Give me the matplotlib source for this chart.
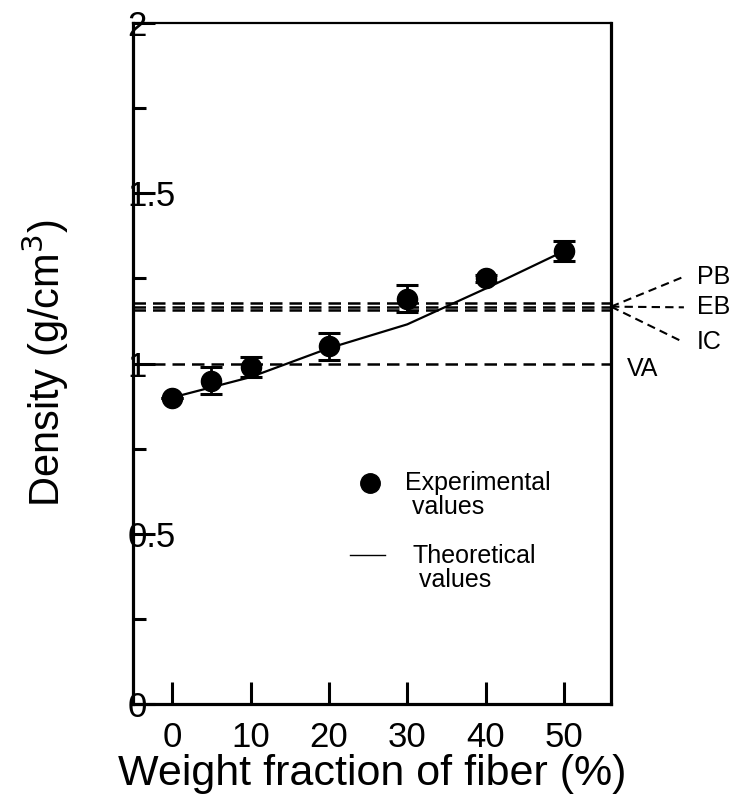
import matplotlib.pyplot as plt
from matplotlib.ticker import MultipleLocator

plt.rcParams['font.family'] = ['Liberation Sans', 'DejaVu Sans']

# Experimental data
fiber = [0, 5, 10, 20, 30, 40, 50]
density = [0.90, 0.95, 0.99, 1.05, 1.19, 1.25, 1.33]
density_err = [0.0, 0.04, 0.03, 0.04, 0.04, 0.01, 0.03]

# Theoretical curve
theory_x = [0, 5, 10, 20, 30, 40, 50]
theory_y = [0.90, 0.93, 0.96, 1.045, 1.115, 1.22, 1.33]

# Model predictions (horizontal lines)
model_names = ['PB', 'EB', 'IC', 'VA']
model_values = [1.178, 1.167, 1.157, 1.0]
label_y = [1.255, 1.165, 1.062, 0.985]

fig = plt.figure(figsize=(7.4, 7.99), dpi=100)
ax = fig.add_axes([0.1797, 0.1189, 0.8257 - 0.1797, 0.9712 - 0.1189])

dash = (0, (5, 2.8))
ax.plot(theory_x, theory_y, color='black', lw=1.6, zorder=3)
ax.errorbar(fiber, density, yerr=density_err, fmt='o', color='black',
            markersize=14.5, capsize=8, capthick=2.2, elinewidth=2, zorder=4)

for v in model_values:
    ax.axhline(v, color='black', ls=dash, lw=1.8, zorder=2)

# fan lines out to the model labels
x_edge = 56
for name, v, ly in zip(model_names, model_values, label_y):
    if name == 'VA':
        ax.text(x_edge + 2, ly, name, fontsize=18, va='center', ha='left')
    else:
        ax.plot([x_edge, x_edge + 9.3], [1.167, ly], color='black',
                ls=(0, (4, 2.5)), lw=1.5, clip_on=False)
        ax.text(x_edge + 11, ly, name, fontsize=18, va='center', ha='left')

ax.set_xlim(-5, 56)
ax.set_ylim(0, 2)
ax.xaxis.set_major_locator(MultipleLocator(10))
ax.yaxis.set_minor_locator(MultipleLocator(0.25))
ax.set_yticks([0, 0.5, 1, 1.5, 2])
ax.set_yticklabels(['0', '0.5', '1', '1.5', '2'])

ax.tick_params(axis='x', direction='in', length=16, width=2.2, labelsize=25, pad=12)
ax.tick_params(axis='y', which='major', direction='in', length=16, width=2.2,
               labelsize=25, pad=4)
ax.tick_params(axis='y', which='minor', direction='in', length=9.5, width=2.2)
for lab in ax.get_yticklabels():
    lab.set_horizontalalignment('left')

for s in ax.spines.values():
    s.set_linewidth(2.3)
ax.spines['top'].set_linewidth(1.6)

ax.set_xlabel('Weight fraction of fiber (%)', fontsize=31, labelpad=0)
ax.set_ylabel('Density (g/cm$^3$)', fontsize=30)
ax.yaxis.set_label_coords(-0.13, 0.5)

# legend drawn by hand
ax.plot([0.496], [0.3245], marker='o', color='black', markersize=14,
        transform=ax.transAxes)
ax.text(0.569, 0.342, 'Experimental\n values', transform=ax.transAxes,
        fontsize=18, va='top', ha='left', linespacing=1.0)
ax.plot([0.454, 0.527], [0.219, 0.219], color='black', lw=1,
        transform=ax.transAxes)
ax.text(0.584, 0.235, 'Theoretical\n values', transform=ax.transAxes,
        fontsize=18, va='top', ha='left', linespacing=1.0)

fig.savefig('out.png', dpi=100)
